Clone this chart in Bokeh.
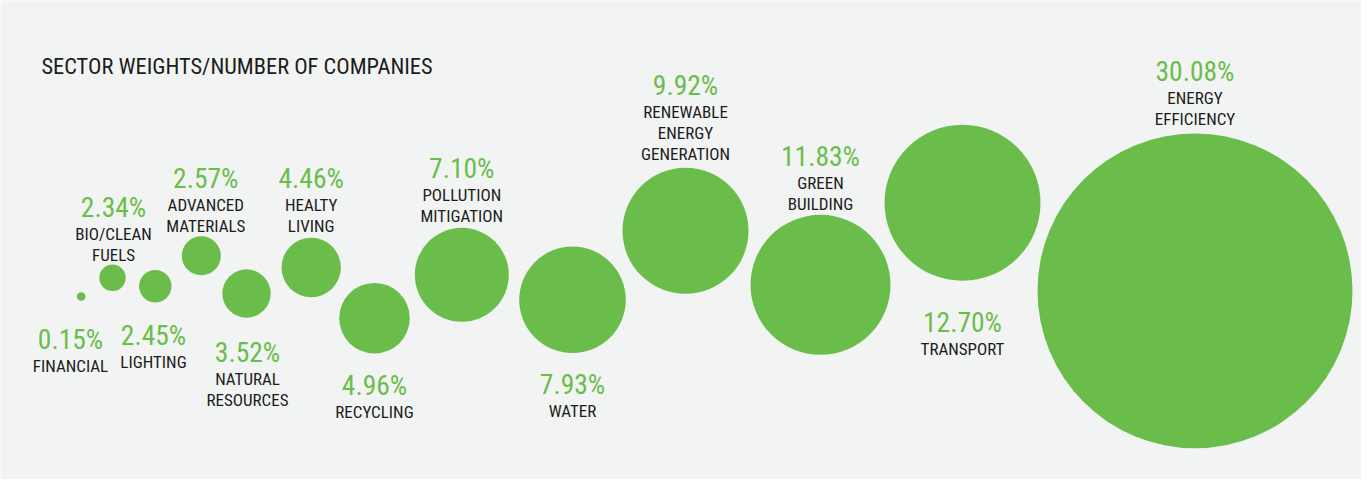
from bokeh.plotting import figure
from bokeh.models import Range1d
from bokeh.core.properties import value
from bokeh.embed import file_html
from bokeh.resources import INLINE

# ---- data ----
title = "SECTOR WEIGHTS/NUMBER OF COMPANIES"
sectors = ["FINANCIAL", "BIO/CLEAN\nFUELS", "LIGHTING", "ADVANCED\nMATERIALS",
           "NATURAL\nRESOURCES", "HEALTY\nLIVING", "RECYCLING", "POLLUTION\nMITIGATION",
           "WATER", "RENEWABLE\nENERGY\nGENERATION", "GREEN\nBUILDING", "TRANSPORT",
           "ENERGY\nEFFICIENCY"]
weights = [0.15, 2.34, 2.45, 2.57, 3.52, 4.46, 4.96, 7.10, 7.93, 9.92, 11.83, 12.70, 30.08]

# ---- layout (bubble placement, pixel units from the top-left of the panel) ----
cx = [80.7, 112, 154.8, 200.8, 246, 310.7, 374, 461.3, 572, 685, 820, 962, 1194.5]
cy = [296, 277.3, 285.7, 255.3, 293, 267, 317.7, 274.3, 299.3, 230.3, 284.3, 202.3, 290.3]
rad = [4.3, 13.2, 16.2, 19.5, 24.2, 29.7, 35.3, 47, 53.3, 63, 70, 78, 157.5]
side = ["below", "above", "below", "above", "below", "above", "below", "above",
        "below", "above", "above", "below", "above"]
gap = [38.4, 10, 32.7, 10.5, 34.8, 12, 31.7, 12, 31, 14, 10.6, 41.7, 14]
dx = [-10.7, 1, -1.8, 4.5, 1, 0, 0, 0, 0, 0, 0, 0, 0]

W, H = 1361, 479
BG = "#f2f4f3"
GREEN = "#6abd4b"
DARK = "#1c1c1c"
FONT = "Roboto Condensed"
PCT_TO_LABEL = 26.5
LINE = 21.0

p = figure(width=W, height=H, output_backend="svg", toolbar_location=None,
           x_range=Range1d(0, W), y_range=Range1d(H, 0),
           min_border=0, background_fill_color=BG, border_fill_color=BG,
           outline_line_color=None)
p.axis.visible = False
p.grid.visible = False

p.circle(x=cx, y=cy, radius=rad, fill_color=GREEN, line_color=None)

pct_x, pct_y, pct_t = [], [], []
lab_x, lab_y, lab_t = [], [], []
for i, name in enumerate(sectors):
    lines = name.split("\n")
    n = len(lines)
    x = cx[i] + dx[i]
    if side[i] == "above":
        last = cy[i] - rad[i] - gap[i]
        first = last - (n - 1) * LINE
        pb = first - PCT_TO_LABEL
    else:
        pb = cy[i] + rad[i] + gap[i]
        first = pb + PCT_TO_LABEL
    pct_x.append(x)
    pct_y.append(pb)
    pct_t.append(f"{weights[i]:.2f}%")
    for j, ln in enumerate(lines):
        lab_x.append(x)
        lab_y.append(first + j * LINE)
        lab_t.append(ln)

p.text(x=pct_x, y=pct_y, text=pct_t, text_color=GREEN, text_font=value(FONT),
       text_font_size="27.5px", text_align="center", text_baseline="alphabetic")
p.text(x=lab_x, y=lab_y, text=lab_t, text_color=DARK, text_font=value(FONT),
       text_font_size="17px", text_align="center", text_baseline="alphabetic")
p.text(x=[41], y=[65], text=[title], text_color=DARK, text_font=value(FONT),
       text_font_size="22.4px", text_align="left", text_baseline="alphabetic")

open("out.html", "w").write(file_html(p, INLINE))
